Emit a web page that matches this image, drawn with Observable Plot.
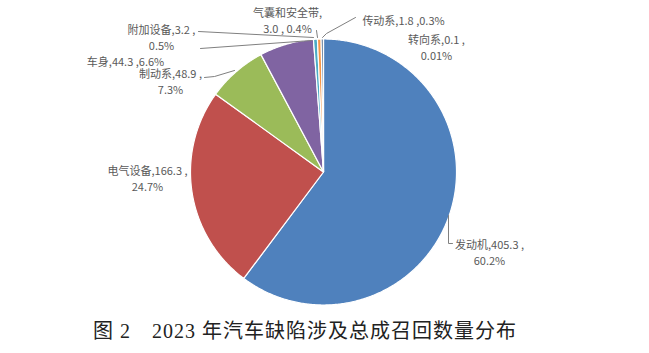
<!DOCTYPE html>
<html>
<head>
<meta charset="utf-8">
<script src="https://cdn.jsdelivr.net/npm/d3@7"></script>
<script src="https://cdn.jsdelivr.net/npm/@observablehq/plot@0.6"></script>
<style>
  html, body { margin: 0; padding: 0; background: #fff; }
  #caption {
    height: 41px; line-height: 38px; padding-left: 93px;
    font-family: "Liberation Serif", "Noto Sans CJK SC", serif;
    font-size: 20px; letter-spacing: 1px; color: #222; white-space: pre;
  }
</style>
</head>
<body>
<div id="chart"></div>
<div id="caption">图 2　2023 年汽车缺陷涉及总成召回数量分布</div>
<script>
// ---- data ----
const categories = ["发动机", "电气设备", "制动系", "车身", "附加设备", "气囊和安全带", "传动系", "转向系"];
const recalls = [405.3, 166.3, 48.9, 44.3, 3.2, 3.0, 1.8, 0.1];
const percentLabels = ["60.2%", "24.7%", "7.3%", "6.6%", "0.5%", "0.4%", "0.3%", "0.01%"];
const colors = ["#4F81BD", "#C0504D", "#9BBB59", "#8064A2", "#4BACC6", "#F79646", "#2C4D75", "#772C2A"];

// ---- layout (pixel geometry of the picture) ----
const W = 649, H = 312, CX = 323, CY = 171.5, R = 133;
const ux = px => (px - CX) / R, uy = py => (CY - py) / R;
// label centre (px), and where the text wraps: 1 = after name, 2 = after value, 0 = none
const labelLayout = {
  "发动机": {x: 489, y: 251, brk: 2},
  "电气设备": {x: 147, y: 177.5, brk: 2},
  "制动系": {x: 170, y: 80.5, brk: 2},
  "车身": {x: 125, y: 60, brk: 0},
  "附加设备": {x: 161, y: 36, brk: 2},
  "气囊和安全带": {x: 287, y: 19.5, brk: 1},
  "传动系": {x: 403, y: 19, brk: 0},
  "转向系": {x: 436, y: 46.5, brk: 2}
};
const leaderLayout = {
  "发动机": [[448, 215], [448, 243], [452, 243]],
  "制动系": [[204, 77], [214, 76], [234, 70]],
  "车身": [[200, 48], [311, 40]],
  "附加设备": [[198, 31], [313, 37]],
  "气囊和安全带": [[316, 30], [317, 37]],
  "传动系": [[355, 17], [326, 33], [322, 37]]
};

// ---- build slice polygons from the data ----
const total = d3.sum(recalls);
const slicePts = [];
let acc = 0;
categories.forEach((name, i) => {
  const a0 = acc / total * 2 * Math.PI;
  acc += recalls[i];
  const a1 = acc / total * 2 * Math.PI;
  slicePts.push({name, x: 0, y: 0});
  const n = Math.max(2, Math.ceil((a1 - a0) / (Math.PI / 360)));
  for (let k = 0; k <= n; k++) {
    const a = a0 + (a1 - a0) * k / n;
    slicePts.push({name, x: Math.sin(a), y: Math.cos(a)});
  }
});

const labels = categories.map((name, i) => {
  const L = labelLayout[name];
  const v = recalls[i].toFixed(1);
  let t;
  if (L.brk === 1) t = `${name},\n${v} , ${percentLabels[i]}`;
  else if (L.brk === 2) t = `${name},${v} ,\n${percentLabels[i]}`;
  else t = `${name},${v} ,${percentLabels[i]}`;
  return {name, x: ux(L.x), y: uy(L.y), text: t};
});

const leaders = [];
Object.entries(leaderLayout).forEach(([name, pts]) =>
  pts.forEach(([px, py]) => leaders.push({name, x: ux(px), y: uy(py)})));

const chart = Plot.plot({
  width: W, height: H,
  margin: 0,
  x: {domain: [ux(0), ux(W)], axis: null},
  y: {domain: [uy(H), uy(0)], axis: null},
  color: {domain: categories, range: colors},
  style: {background: "#fff"},
  marks: [
    Plot.line(slicePts, {x: "x", y: "y", z: "name", fill: "name", stroke: "white", strokeWidth: 1.2, curve: "linear-closed"}),
    Plot.line(leaders, {x: "x", y: "y", z: "name", stroke: "#808080", strokeWidth: 1}),
    Plot.text(labels, {x: "x", y: "y", text: "text", fill: "#595959", fontSize: 11, lineHeight: 1.45,
      fontFamily: "'Noto Sans CJK SC', 'Noto Sans', sans-serif", textAnchor: "middle"})
  ]
});
document.getElementById("chart").appendChild(chart);
</script>
</body>
</html>
